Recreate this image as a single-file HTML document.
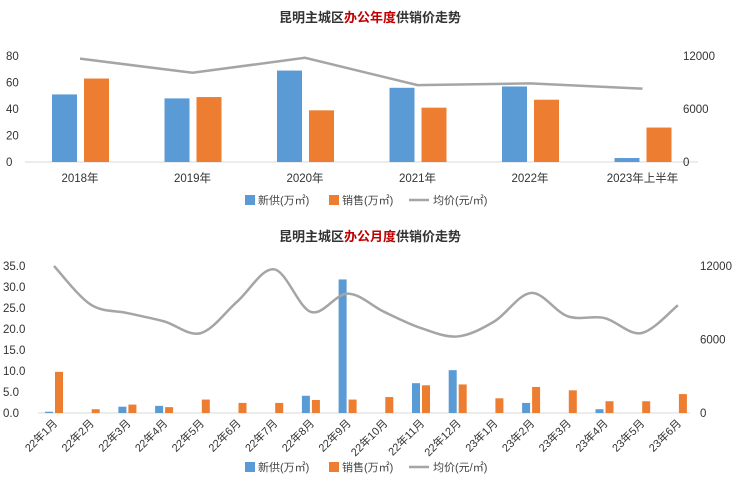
<!DOCTYPE html>
<html><head><meta charset="utf-8"><style>
body{margin:0;background:#fff;font-family:"Liberation Sans","Noto Sans CJK SC",sans-serif}
svg{display:block}
</style></head><body>
<svg id="c" width="740" height="487"></svg>
<script>
const yearCats=["2018年","2019年","2020年","2021年","2022年","2023年上半年"];
const yearNew=[51,48,69,56,57,3];
const yearSales=[63,49,39,41,47,26];
const yearPrice=[11700,10100,11800,8700,8900,8300];
const leftTicksTop=[0,20,40,60,80];
const rightTicksTop=[0,6000,12000];
const monCats=["22年1月","22年2月","22年3月","22年4月","22年5月","22年6月","22年7月","22年8月","22年9月","22年10月","22年11月","22年12月","23年1月","23年2月","23年3月","23年4月","23年5月","23年6月"];
const monNew=[0.3,0,1.5,1.7,0,0,0,4.1,31.8,0,7.1,10.2,0,2.4,0,0.9,0,0];
const monSales=[9.8,0.9,2.0,1.4,3.2,2.4,2.4,3.1,3.2,3.8,6.6,6.8,3.5,6.2,5.4,2.8,2.8,4.5];
const monPrice=[12000,8850,8160,7480,6520,9120,11730,8250,9750,8250,6930,6250,7480,9800,7890,7750,6520,8800];
const leftTicksBot=["0.0","5.0","10.0","15.0","20.0","25.0","30.0","35.0"];
const rightTicksBot=[0,6000,12000];

const svg=document.getElementById('c');const NS='http://www.w3.org/2000/svg';
function el(t,a,txt){const e=document.createElementNS(NS,t);for(const k in a)e.setAttribute(k,a[k]);if(txt!==undefined)e.textContent=txt;svg.appendChild(e);return e;}
const BLUE='#5b9bd5',ORG='#ed7d31',GRAY='#a5a5a5';
function smooth(pts){let d=`M${pts[0][0]},${pts[0][1]}`;for(let i=0;i<pts.length-1;i++){const p0=pts[i-1]||pts[i],p1=pts[i],p2=pts[i+1],p3=pts[i+2]||p2;const t=6;d+=` C${p1[0]+(p2[0]-p0[0])/t},${p1[1]+(p2[1]-p0[1])/t} ${p2[0]-(p3[0]-p1[0])/t},${p2[1]-(p3[1]-p1[1])/t} ${p2[0]},${p2[1]}`;}return d;}
function title(x,y,a,b,c,name){const t=el('text',{x:x,y:y,'text-anchor':'middle','font-size':13,'font-weight':'bold',fill:'#333'});
 [[a,'#333'],[b,'#c00000'],[c,'#333']].forEach(([s,f])=>{const sp=document.createElementNS(NS,'tspan');sp.setAttribute('fill',f);sp.textContent=s;t.appendChild(sp);});}
function legend(cx,y,name){const g=el('g',{});
 const items=[[BLUE,'新供(万㎡)','bar'],[ORG,'销售(万㎡)','bar'],[GRAY,'均价(元/㎡)','line']];let x=cx-125;
 items.forEach(([c,l,k])=>{if(k==='bar')el('rect',{x:x,y:y-5,width:10,height:10,fill:c});else el('line',{x1:x-4,y1:y,x2:x+16,y2:y,stroke:c,'stroke-width':2.5});
  const t=el('text',{x:x+(k==='bar'?13:20),y:y+4,'font-size':11,fill:'#444'},l);x+=84;});}

// TOP chart
title(370,22,'昆明主城区','办公年度','供销价走势','top-chart-title');
const tY0=162,tY1=56;const ty=v=>tY0-(v/80)*(tY0-tY1);const tyr=v=>tY0-(v/12000)*(tY0-tY1);const tx=i=>80+112.5*i;
el('line',{x1:25,y1:tY0,x2:698,y2:tY0,stroke:'#d9d9d9'});
leftTicksTop.forEach(v=>{const t=el('text',{x:6,y:ty(v)+4,'font-size':11.5,fill:'#333'},v);});
rightTicksTop.forEach(v=>{const t=el('text',{x:683,y:tyr(v)+4,'font-size':11.5,fill:'#333'},v);});
yearCats.forEach((c,i)=>{
 const b=el('rect',{x:tx(i)-28,y:ty(yearNew[i]),width:25,height:tY0-ty(yearNew[i]),fill:BLUE});
 const o=el('rect',{x:tx(i)+4,y:ty(yearSales[i]),width:25,height:tY0-ty(yearSales[i]),fill:ORG});
 const t=el('text',{x:tx(i),y:182,'text-anchor':'middle','font-size':11.5,fill:'#333'},c);
});
const tl=el('polyline',{points:yearPrice.map((v,i)=>tx(i)+','+tyr(v)).join(' '),fill:'none',stroke:GRAY,'stroke-width':2.5});
legend(370,200,'top-legend');

// BOTTOM chart
title(370,241,'昆明主城区','办公月度','供销价走势','bottom-chart-title');
const bY0=413,bY1=266;const by=v=>bY0-(v/35)*(bY0-bY1);const byr=v=>bY0-(v/12000)*(bY0-bY1);const bx=i=>54+36.7*i;
el('line',{x1:38,y1:bY0,x2:690,y2:bY0,stroke:'#d9d9d9'});
leftTicksBot.forEach(v=>{const t=el('text',{x:3,y:by(parseFloat(v))+4,'font-size':11.5,fill:'#333'},v);});
rightTicksBot.forEach(v=>{const t=el('text',{x:700,y:byr(v)+4,'font-size':11.5,fill:'#333'},v);});
monCats.forEach((c,i)=>{
 if(monNew[i]>0){const b=el('rect',{x:bx(i)-9,y:by(monNew[i]),width:8,height:bY0-by(monNew[i]),fill:BLUE});}
 const o=el('rect',{x:bx(i)+1,y:by(monSales[i]),width:8,height:bY0-by(monSales[i]),fill:ORG});
 const t=el('text',{x:bx(i)+4,y:424,'text-anchor':'end','font-size':11,fill:'#333',transform:`rotate(-45 ${bx(i)+4} 424)`},c);
});
const bl=el('path',{d:smooth(monPrice.map((v,i)=>[bx(i),byr(v)])),fill:'none',stroke:GRAY,'stroke-width':2.5});
legend(370,467,'bottom-legend');
</script>
</body></html>
